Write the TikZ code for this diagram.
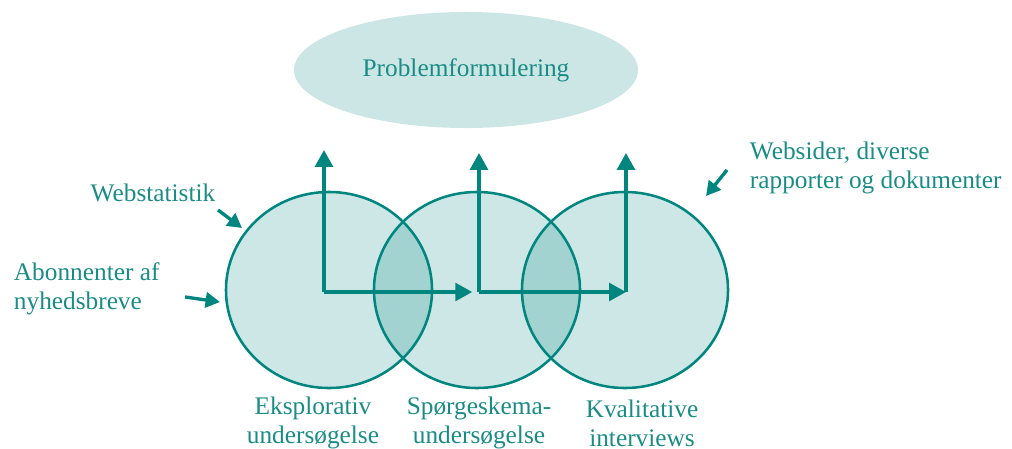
\documentclass[tikz,border=0pt]{standalone}
\usepackage{fontspec}
\setmainfont{Liberation Serif}
\usepackage{tikz}
\usetikzlibrary{arrows.meta,shapes.geometric}
\definecolor{teal1}{HTML}{00857F}
\definecolor{tealtext}{HTML}{1A8C86}
\definecolor{tealpale}{HTML}{CCE6E5}

\begin{document}
\begin{tikzpicture}[
  x=0.025cm, y=-0.025cm,
  ring/.style={ellipse, draw=teal1, line width=1.8pt, fill=teal1, fill opacity=0.2,
               text opacity=1, minimum width=5.15cm, minimum height=4.9cm},
  goal/.style={ellipse, fill=tealpale, minimum width=8.6cm, minimum height=2.9cm,
               font=\fontsize{18}{21}\selectfont, text=tealtext},
  lbl/.style={font=\fontsize{18}{20.5}\selectfont, text=tealtext},
  flow/.style={-{Triangle[length=0.42cm,width=0.44cm]}, line width=2.5pt, teal1},
  hint/.style={-{Triangle[length=0.36cm,width=0.38cm]}, line width=2.4pt, teal1}
]
\useasboundingbox (0,0) rectangle (1012,448);

\node[goal] (prob) at (466,70) {Problemformulering};

% the three methods
\node[ring] (eks) at (329,290) {};
\node[ring] (spg) at (477,290) {};
\node[ring] (kval) at (625,290) {};

\coordinate (o1) at (324,292);
\coordinate (o2) at (479,292);
\coordinate (o3) at (626,292);
\coordinate (t1) at (324,150);
\coordinate (t2) at (479,153);
\coordinate (t3) at (626,153);

\draw[flow] (o1) -- (t1);
\draw[flow] (o2) -- (t2);
\draw[flow] (o3) -- (t3);
\draw[flow] (o1) -- ([xshift=-0.17cm]o2);
\draw[flow] (o2) -- (o3);

% names below
\node[lbl, align=center] (eksname) at (313,423) {Eksplorativ\\unders\o gelse};
\node[lbl, align=center] (spgname) at (479,423) {Sp\o rgeskema-\\unders\o gelse};
\node[lbl, align=center] (kvalname) at (642,423) {Kvalitative\\interviews};

% data sources
\node[lbl] (web) at (153,193) {Webstatistik};
\node[lbl, align=left, anchor=west] (abo) at (9,289) {Abonnenter af\\nyhedsbreve};
\node[lbl, align=left, anchor=west] (doc) at (745,168) {Websider, diverse\\rapporter og dokumenter};

\coordinate (webfrom) at (218,210);
\coordinate (webtip) at (242,228);
\coordinate (abofrom) at (185,297);
\coordinate (abotip) at (220,302);
\coordinate (docfrom) at (727,170);
\coordinate (doctip) at (706,196);
\draw[hint] (webfrom) -- (webtip);
\draw[hint] (abofrom) -- (abotip);
\draw[hint] (docfrom) -- (doctip);
\end{tikzpicture}
\end{document}
